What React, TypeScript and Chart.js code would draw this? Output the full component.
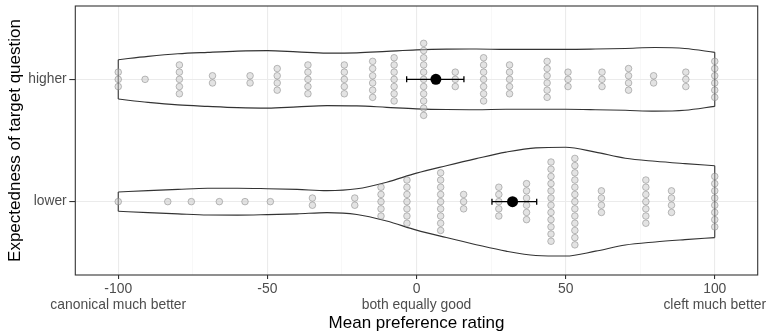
import React, { useEffect, useRef } from 'react';
import { Chart, registerables } from 'chart.js';

Chart.register(...registerables);

// ---------- data ----------
const CATEGORIES = ['lower', 'higher'];
const CATEGORY_POS = [1, 2];

const X_TICKS = [-100, -75, -50, -25, 0, 25, 50, 75, 100];
const X_MAJOR_TICKS = [-100, -50, 0, 50, 100];
const X_TICK_LABELS: (string | string[])[] = [
  ['-100', 'canonical much better'],
  '-50',
  ['0', 'both equally good'],
  '50',
  ['100', 'cleft much better'],
];

// dot-plot bins (bin centre, number of stacked dots)
const HIGHER_DOT_X = [-100, -91, -79.5, -68.4, -55.8, -46.7, -36.4, -24.2, -14.7, -7.5, 2.4, 13, 22.5, 31.2, 43.8, 50.8, 62.2, 71.1, 79.5, 90.3, 100];
const HIGHER_DOT_N = [3, 1, 5, 2, 2, 4, 5, 5, 6, 7, 11, 3, 7, 5, 6, 3, 3, 4, 2, 3, 6];
const LOWER_DOT_X = [-100, -83.4, -75.5, -66.1, -57.5, -49, -34.9, -20.7, -11.9, -3.2, 8.1, 15.8, 27.6, 36.9, 45.1, 53.1, 62, 76.9, 85.5, 100];
const LOWER_DOT_N = [1, 1, 1, 1, 1, 1, 2, 2, 5, 7, 9, 3, 5, 6, 12, 13, 4, 7, 4, 8];

// violin outlines: half-width (in category units) at each x
const VIOLIN_X = [-100, -90, -80, -70, -60, -50, -40, -30, -20, -10, 0, 10, 20, 30, 40, 50, 60, 70, 80, 90, 100];
const HIGHER_HALF_WIDTH = [0.161, 0.188, 0.209, 0.221, 0.231, 0.235, 0.225, 0.215, 0.217, 0.229, 0.241, 0.247, 0.248, 0.245, 0.245, 0.245, 0.248, 0.253, 0.26, 0.253, 0.221];
const LOWER_HALF_WIDTH = [0.079, 0.09, 0.1, 0.109, 0.11, 0.106, 0.1, 0.09, 0.105, 0.159, 0.233, 0.294, 0.352, 0.405, 0.44, 0.445, 0.405, 0.355, 0.33, 0.311, 0.294];

// means with error bars (lower, higher)
const MEANS = [32.2, 6.5];
const CI_LOW = [25.3, -3.3];
const CI_HIGH = [40.3, 15.9];

// ---------- helpers ----------
const DOT_STEP = 0.0589; // vertical spacing of stacked dots in category units
const FONT = "'Liberation Sans', Arial, sans-serif";

function stackDots(xs: number[], ns: number[], centre: number) {
  const pts: { x: number; y: number }[] = [];
  xs.forEach((x, i) => {
    const n = ns[i];
    for (let k = 0; k < n; k++) {
      pts.push({ x, y: centre + (k - (n - 1) / 2) * DOT_STEP });
    }
  });
  return pts;
}

function violinDatasets(hw: number[], centre: number) {
  const common = {
    type: 'scatter' as const,
    showLine: true,
    pointRadius: 0,
    borderColor: '#333333',
    borderWidth: 1.1,
    fill: false,
    order: 3,
    cubicInterpolationMode: 'monotone' as const,
  };
  const n = VIOLIN_X.length;
  return [
    { ...common, data: VIOLIN_X.map((x, i) => ({ x, y: centre + hw[i] })) },
    { ...common, data: VIOLIN_X.map((x, i) => ({ x, y: centre - hw[i] })) },
    { ...common, cubicInterpolationMode: 'default' as const, tension: 0, data: [{ x: VIOLIN_X[0], y: centre + hw[0] }, { x: VIOLIN_X[0], y: centre - hw[0] }] },
    { ...common, cubicInterpolationMode: 'default' as const, tension: 0, data: [{ x: VIOLIN_X[n - 1], y: centre + hw[n - 1] }, { x: VIOLIN_X[n - 1], y: centre - hw[n - 1] }] },
  ];
}

const panelPlugin = {
  id: 'panelPlugin',
  afterDatasetsDraw(chart: any) {
    const { ctx, scales } = chart;
    const xs = scales.x;
    const ys = scales.y;
    ctx.save();
    ctx.strokeStyle = '#000000';
    ctx.lineWidth = 1.3;
    for (let i = 0; i < CATEGORY_POS.length; i++) {
      const yp = ys.getPixelForValue(CATEGORY_POS[i]);
      const x1 = xs.getPixelForValue(CI_LOW[i]);
      const x2 = xs.getPixelForValue(CI_HIGH[i]);
      ctx.beginPath();
      ctx.moveTo(x1, yp);
      ctx.lineTo(x2, yp);
      ctx.moveTo(x1, yp - 3);
      ctx.lineTo(x1, yp + 3);
      ctx.moveTo(x2, yp - 3);
      ctx.lineTo(x2, yp + 3);
      ctx.stroke();
      ctx.fillStyle = '#000000';
      ctx.beginPath();
      ctx.arc(xs.getPixelForValue(MEANS[i]), yp, 5.5, 0, Math.PI * 2);
      ctx.fill();
    }
    ctx.restore();
  },
  afterDraw(chart: any) {
    const { ctx, chartArea } = chart;
    ctx.save();
    ctx.strokeStyle = '#333333';
    ctx.lineWidth = 1.1;
    ctx.strokeRect(chartArea.left, chartArea.top, chartArea.right - chartArea.left, chartArea.bottom - chartArea.top);
    ctx.restore();
  },
};

export default function App() {
  const ref = useRef<HTMLCanvasElement | null>(null);

  useEffect(() => {
    if (!ref.current) return;
    const dots = [
      ...stackDots(LOWER_DOT_X, LOWER_DOT_N, CATEGORY_POS[0]),
      ...stackDots(HIGHER_DOT_X, HIGHER_DOT_N, CATEGORY_POS[1]),
    ];
    const chart = new Chart(ref.current, {
      type: 'scatter',
      data: {
        datasets: [
          ...violinDatasets(LOWER_HALF_WIDTH, CATEGORY_POS[0]),
          ...violinDatasets(HIGHER_HALF_WIDTH, CATEGORY_POS[1]),
          {
            type: 'scatter',
            data: dots,
            pointRadius: 3.3,
            pointBackgroundColor: 'rgba(200,200,200,0.5)',
            pointBorderColor: 'rgba(128,128,128,0.5)',
            pointBorderWidth: 1,
            order: 2,
          },
        ] as any,
      },
      options: {
        responsive: false,
        animation: false,
        events: [],
        layout: { padding: { top: 6, right: 9.3, left: 0, bottom: 0 } },
        plugins: { legend: { display: false }, tooltip: { enabled: false } },
        scales: {
          x: {
            type: 'linear',
            min: -114.4,
            max: 114.4,
            afterBuildTicks: (s: any) => {
              s.ticks = X_TICKS.map((v) => ({ value: v }));
            },
            afterFit: (s: any) => {
              s.height = 57;
              s.paddingLeft = 0;
              s.paddingRight = 0;
            },
            border: { display: false },
            grid: {
              color: (c: any) => (X_MAJOR_TICKS.includes(c.tick?.value) ? '#ebebeb' : '#f3f3f3'),
              lineWidth: (c: any) => (X_MAJOR_TICKS.includes(c.tick?.value) ? 1.1 : 0.6),
              tickColor: (c: any) => (X_MAJOR_TICKS.includes(c.tick?.value) ? '#333333' : 'rgba(0,0,0,0)'),
              tickLength: 4,
              tickWidth: 1.1,
            },
            ticks: {
              autoSkip: false,
              maxRotation: 0,
              minRotation: 0,
              padding: 3,
              color: '#4d4d4d',
              font: { family: FONT, size: 13.9, lineHeight: 1.09 },
              callback: (v: any) => {
                const idx = X_MAJOR_TICKS.indexOf(Number(v));
                return idx >= 0 ? X_TICK_LABELS[idx] : '';
              },
            },
            title: {
              display: true,
              text: 'Mean preference rating',
              color: '#000000',
              font: { family: FONT, size: 17, lineHeight: 1 },
              padding: { top: 0, bottom: 0.5 },
            },
          },
          y: {
            type: 'linear',
            min: 0.4,
            max: 2.6,
            afterBuildTicks: (s: any) => {
              s.ticks = CATEGORY_POS.map((v) => ({ value: v }));
            },
            afterFit: (s: any) => {
              s.width = 75.3;
              s.paddingTop = 0;
              s.paddingBottom = 0;
            },
            border: { display: false },
            grid: {
              color: '#ebebeb',
              lineWidth: 1.1,
              tickColor: '#333333',
              tickLength: 6,
              tickWidth: 1.1,
            },
            ticks: {
              padding: 2.6,
              color: '#4d4d4d',
              font: { family: FONT, size: 13.8 },
              callback: (v: any) => {
                const idx = CATEGORY_POS.indexOf(Number(v));
                return idx >= 0 ? CATEGORIES[idx] : '';
              },
            },
            title: {
              display: true,
              text: 'Expectedness of target question',
              color: '#000000',
              font: { family: FONT, size: 17, lineHeight: 1 },
              padding: { top: 6.5, bottom: 0 },
            },
          },
        },
      },
      plugins: [panelPlugin],
    } as any);
    return () => chart.destroy();
  }, []);

  return (
    <div style={{ position: 'absolute', left: 0, top: 0, width: 767, height: 332, background: '#ffffff' }}>
      <canvas ref={ref} width={767} height={332} style={{ display: 'block' }} />
    </div>
  );
}
